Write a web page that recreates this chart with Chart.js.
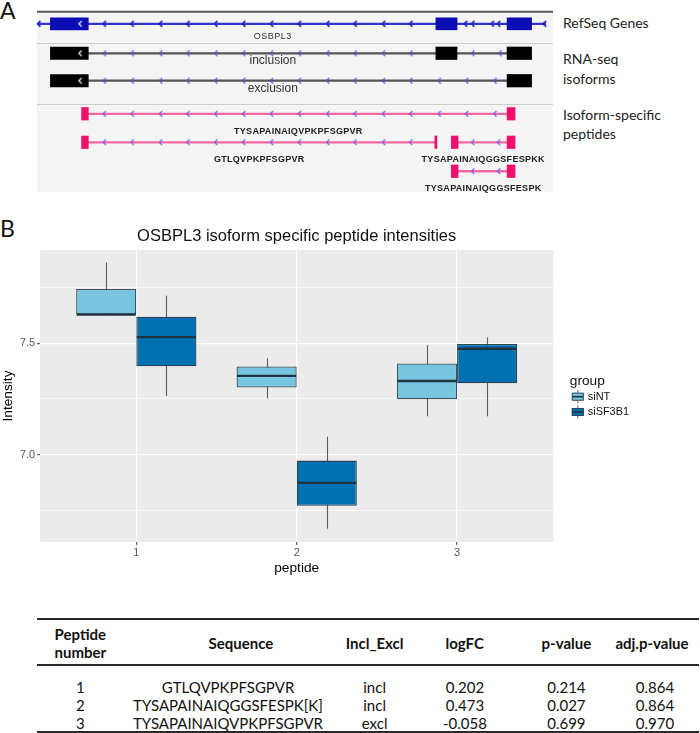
<!DOCTYPE html>
<html>
<head>
<meta charset="utf-8">
<script src="https://cdn.jsdelivr.net/npm/chart.js@4.4.1/dist/chart.umd.min.js"></script>
<style>
  body { margin: 0; background: #fff; width: 700px; height: 733px; position: relative; overflow: hidden; font-family: Lato, sans-serif; }
  .abs { position: absolute; }
  .panelLetter { font-size: 23px; line-height: 1.2; color: #111; }
  .trackLabel { font-size: 14px; line-height: 1.2; color: #222; white-space: nowrap; }
  .cell { position: absolute; transform: translate(-50%, -50%); white-space: nowrap; font-size: 15px; line-height: 1.2; color: #111; text-align: center; }
  .head { font-weight: bold; }
  .rule { position: absolute; left: 37px; width: 662px; background: #2a2a2a; }
</style>
</head>
<body>
<div class="abs panelLetter" style="left:0;top:-3.4px">A</div>
<div class="abs panelLetter" style="left:0;top:214.6px">B</div>
<div class="abs trackLabel" style="left:563px;top:14.5px">RefSeq Genes</div>
<div class="abs trackLabel" style="left:563px;top:51.2px">RNA-seq</div>
<div class="abs trackLabel" style="left:563px;top:71.2px">isoforms</div>
<div class="abs trackLabel" style="left:563px;top:106.9px">Isoform-specific</div>
<div class="abs trackLabel" style="left:563px;top:126.2px">peptides</div>

<canvas id="tracks" class="abs" width="560" height="200" style="left:0;top:0"></canvas>
<canvas id="boxes" class="abs" width="700" height="375" style="left:0;top:205px"></canvas>
<div id="table"></div>

<script>
// ---------- Panel A: genome browser view (positions in kb inside the window) ----------
const geneName = 'OSBPL3';
const geneSpan = [0, 98.6];
const geneExons = [[2.6, 9.94], [77.3, 81.4], [91.1, 95.85]];
const geneChevrons = [0.4, 13.1, 18.5, 24.0, 29.3, 34.7, 40.1, 45.5, 50.9, 56.4, 61.7, 67.2, 72.5, 83.1, 84.5, 88.3, 89.5, 98.4];
const geneLabelPos = 45.7;

const isoformNames = ['inclusion', 'exclusion'];
const isoformExons = [
    [[2.6, 9.94], [77.3, 81.4], [91.1, 95.85]],
    [[2.6, 9.94], [91.1, 95.85]]
];
const isoformChevrons = [
    [13.1, 18.5, 24.0, 29.3, 34.7, 40.1, 45.5, 50.9, 56.4, 61.7, 67.2, 72.5, 84.5, 89.8],
    [13.1, 18.5, 24.0, 29.3, 34.7, 40.1, 45.5, 50.9, 56.4, 61.7, 67.2, 72.5, 78.0, 83.3, 88.8]
];
const exonStrandMarks = [8.4];

const peptideNames = ['TYSAPAINAIQVPKPFSGPVR', 'GTLQVPKPFSGPVR', 'TYSAPAINAIQGGSFESPKK', 'TYSAPAINAIQGGSFESPK'];
const peptideBlocks = [
    [[8.64, 9.94], [91.1, 92.65]],
    [[8.64, 9.94], [77.1, 77.5]],
    [[80.3, 81.6], [91.1, 92.65]],
    [[80.3, 81.6], [91.1, 92.65]]
];
const peptideChevrons = [
    [13.1, 18.5, 24.0, 29.3, 34.7, 40.1, 45.5, 50.9, 56.4, 61.7, 67.2, 72.5, 78.0, 83.3, 88.8],
    [13.1, 18.5, 24.0, 29.3, 34.7, 40.1, 45.5, 50.9, 56.4, 61.7, 67.2, 72.5],
    [84.5, 89.5],
    [84.5, 89.5]
];

// vertical slot of each track in the browser window
const geneRow = 19.8;
const isoformRows = [50.8, 79.7];
const peptideRows = [114.5, 144.5, 144.5, 175];

// ---------- Panel B: box plot statistics ----------
const peptides = [1, 2, 3];
const groupNames = ['siNT', 'siSF3B1'];
const siNT_min = [7.630, 7.252, 7.172];
const siNT_q1 = [7.630, 7.302, 7.249];
const siNT_median = [7.630, 7.354, 7.331];
const siNT_q3 = [7.745, 7.396, 7.410];
const siNT_max = [7.864, 7.434, 7.492];
const siSF3B1_min = [7.264, 6.667, 7.172];
const siSF3B1_q1 = [7.397, 6.770, 7.321];
const siSF3B1_median = [7.528, 6.873, 7.476];
const siSF3B1_q3 = [7.620, 6.973, 7.497];
const siSF3B1_max = [7.715, 7.081, 7.527];
const yTicks = [6.75, 7.0, 7.25, 7.5, 7.75];
const yLabelled = [7.0, 7.5];

// ---------- Table ----------
const tableHeaders = ['Peptide\nnumber', 'Sequence', 'Incl_Excl', 'logFC', 'p-value', 'adj.p-value'];
const peptideNumber = ['1', '2', '3'];
const sequences = ['GTLQVPKPFSGPVR', 'TYSAPAINAIQGGSFESPK[K]', 'TYSAPAINAIQVPKPFSGPVR'];
const inclExcl = ['incl', 'incl', 'excl'];
const logFC = ['0.202', '0.473', '-0.058'];
const pValue = ['0.214', '0.027', '0.699'];
const adjPValue = ['0.864', '0.864', '0.970'];

Chart.defaults.font.family = 'Liberation Sans, Arial, sans-serif';
Chart.defaults.animation = false;

// small "<" strand marker used as point style
function chevron(color, w) {
    const c = document.createElement('canvas');
    c.width = 6; c.height = 8;
    const g = c.getContext('2d');
    g.strokeStyle = color; g.lineWidth = w;
    g.beginPath(); g.moveTo(4.3, 1.2); g.lineTo(1.6, 4); g.lineTo(4.3, 6.8); g.stroke();
    return c;
}
const chevGene = chevron('#1f1fc4', 1.7);
const chevIso = chevron('#5050e6', 1.2);
const chevPep = chevron('#6a5ce6', 1.2);
const chevWhite = chevron('#ffffff', 1.2);

function marks(xs, row, img) {
    return { type: 'scatter', data: xs.map(x => ({ x, y: row })), pointStyle: img, pointRadius: 4, order: 0 };
}
function blocks(list, row, color, thick, order) {
    return { type: 'bar', indexAxis: 'y', grouped: false, data: list.map(b => ({ y: row, x: b })),
        backgroundColor: color, borderWidth: 0, barThickness: thick, order };
}
// gaps between consecutive blocks are the introns
function introns(list) {
    const out = [];
    for (let i = 0; i < list.length - 1; i++) out.push([list[i][1], list[i + 1][0]]);
    return out;
}

const trackSets = [];
trackSets.push(blocks([geneSpan], geneRow, '#3434cf', 1.6, 2));
trackSets.push(blocks(geneExons, geneRow, '#0c0cb4', 12, 1));
trackSets.push(marks(geneChevrons, geneRow, chevGene));
trackSets.push(marks(exonStrandMarks, geneRow, chevWhite));
isoformExons.forEach((ex, i) => {
    trackSets.push(blocks(introns(ex), isoformRows[i], '#555555', 1.6, 2));
    trackSets.push(blocks(ex, isoformRows[i], '#000000', 12.5, 1));
    trackSets.push(marks(isoformChevrons[i], isoformRows[i], chevIso));
    trackSets.push(marks(exonStrandMarks, isoformRows[i], chevWhite));
});
peptideBlocks.forEach((bl, i) => {
    trackSets.push(blocks(introns(bl), peptideRows[i], '#f168a6', 1.6, 2));
    trackSets.push(blocks(bl, peptideRows[i], '#f0106c', 12.5, 1));
    trackSets.push(marks(peptideChevrons[i], peptideRows[i], chevPep));
});

const trackDecor = {
    id: 'trackDecor',
    beforeDatasetsDraw(chart) {
        const { ctx, chartArea: a, scales: { y } } = chart;
        ctx.save();
        ctx.fillStyle = '#f4f4f4';
        ctx.fillRect(a.left, y.getPixelForValue(7), a.right - a.left, y.getPixelForValue(197) - y.getPixelForValue(7));
        ctx.strokeStyle = '#cccccc'; ctx.lineWidth = 1;
        [40, 104].forEach(v => {
            const py = Math.round(y.getPixelForValue(v)) + 0.5;
            ctx.beginPath(); ctx.moveTo(a.left, py); ctx.lineTo(a.right, py); ctx.stroke();
        });
        ctx.strokeStyle = '#555555'; ctx.lineWidth = 2;
        ctx.beginPath(); ctx.moveTo(a.left, y.getPixelForValue(7)); ctx.lineTo(a.right, y.getPixelForValue(7)); ctx.stroke();
        ctx.restore();
    },
    afterDatasetsDraw(chart) {
        const { ctx, scales: { x, y } } = chart;
        ctx.save();
        ctx.textAlign = 'center'; ctx.textBaseline = 'middle';
        ctx.fillStyle = '#333';
        ctx.font = '9px "Liberation Sans", Arial, sans-serif';
        ctx.letterSpacing = '0.5px';
        ctx.fillText(geneName, x.getPixelForValue(geneLabelPos), y.getPixelForValue(geneRow + 13.5));
        ctx.letterSpacing = '0px';
        ctx.font = '12px "Liberation Sans", Arial, sans-serif';
        isoformNames.forEach((n, i) => {
            ctx.fillText(n, x.getPixelForValue(geneLabelPos), y.getPixelForValue(isoformRows[i] + 8.3));
        });
        ctx.fillStyle = '#222';
        ctx.font = 'bold 9px "Liberation Sans", Arial, sans-serif';
        ctx.letterSpacing = '0.3px';
        peptideNames.forEach((n, i) => {
            const bl = peptideBlocks[i];
            const mid = (bl[0][0] + bl[bl.length - 1][1]) / 2;
            ctx.fillText(n, x.getPixelForValue(mid), y.getPixelForValue(peptideRows[i] + 18.3));
        });
        ctx.restore();
    }
};

new Chart(document.getElementById('tracks'), {
    type: 'scatter',
    data: { datasets: trackSets },
    options: {
        responsive: false,
        events: [],
        layout: { padding: { left: 37, right: 7, top: 0, bottom: 0 } },
        plugins: { legend: { display: false }, tooltip: { enabled: false } },
        scales: {
            x: { type: 'linear', min: 0, max: 100, display: false, offset: false, grid: { offset: false } },
            y: { type: 'linear', min: 0, max: 200, reverse: true, display: false, offset: false, grid: { offset: false } }
        }
    },
    plugins: [trackDecor]
});

// ---------- Panel B ----------
const boxSets = [
    { label: groupNames[0], data: peptides.map((p, i) => ({ x: p, y: [siNT_q1[i], siNT_q3[i]] })),
      lo: siNT_min, med: siNT_median, hi: siNT_max,
      backgroundColor: '#77c5e1', borderColor: '#3d525c', borderWidth: 1.3, borderSkipped: false },
    { label: groupNames[1], data: peptides.map((p, i) => ({ x: p, y: [siSF3B1_q1[i], siSF3B1_q3[i]] })),
      lo: siSF3B1_min, med: siSF3B1_median, hi: siSF3B1_max,
      backgroundColor: '#0070b1', borderColor: '#2c4654', borderWidth: 1.3, borderSkipped: false }
];

const isMajor = v => yLabelled.some(t => Math.abs(t - v) < 1e-9);

const boxParts = {
    id: 'boxParts',
    beforeDraw(chart) {
        const { ctx, chartArea: a } = chart;
        ctx.save();
        ctx.fillStyle = '#ebebeb';
        ctx.fillRect(a.left, a.top, a.right - a.left, a.bottom - a.top);
        ctx.restore();
    },
    beforeDatasetsDraw(chart) {
        const { ctx, scales: { y } } = chart;
        ctx.save();
        ctx.strokeStyle = '#5c5c5c'; ctx.lineWidth = 1.1;
        chart.data.datasets.forEach((ds, di) => {
            chart.getDatasetMeta(di).data.forEach((bar, j) => {
                const px = Math.round(bar.x) + 0.5;
                ctx.beginPath();
                ctx.moveTo(px, y.getPixelForValue(ds.lo[j]));
                ctx.lineTo(px, y.getPixelForValue(ds.hi[j]));
                ctx.stroke();
            });
        });
        ctx.restore();
    },
    afterDatasetsDraw(chart) {
        const { ctx, scales: { y } } = chart;
        ctx.save();
        ctx.strokeStyle = '#1e3440'; ctx.lineWidth = 2.3;
        chart.data.datasets.forEach((ds, di) => {
            chart.getDatasetMeta(di).data.forEach((bar, j) => {
                const py = y.getPixelForValue(ds.med[j]);
                ctx.beginPath();
                ctx.moveTo(bar.x - bar.width / 2 + 0.5, py);
                ctx.lineTo(bar.x + bar.width / 2 - 0.5, py);
                ctx.stroke();
            });
        });
        ctx.restore();
    },
    afterDraw(chart) {
        // ggplot style legend with little box plot keys
        const { ctx, chartArea: a } = chart;
        const left = a.right + 16.5;
        ctx.save();
        ctx.fillStyle = '#111';
        ctx.textBaseline = 'middle';
        ctx.font = '13.7px "Liberation Sans", Arial, sans-serif';
        ctx.fillText('group', left, 176);
        ctx.font = '10.9px "Liberation Sans", Arial, sans-serif';
        chart.data.datasets.forEach((ds, i) => {
            const cy = 191.7 + i * 15.3;
            const kx = left + 2, kw = 12;
            ctx.strokeStyle = '#5c5c5c'; ctx.lineWidth = 1;
            ctx.beginPath(); ctx.moveTo(kx + kw / 2, cy - 6.5); ctx.lineTo(kx + kw / 2, cy + 6.5); ctx.stroke();
            ctx.fillStyle = ds.backgroundColor;
            ctx.fillRect(kx, cy - 4, kw, 8);
            ctx.strokeStyle = ds.borderColor; ctx.lineWidth = 1;
            ctx.strokeRect(kx + 0.5, cy - 3.5, kw - 1, 7);
            ctx.strokeStyle = '#1e3440'; ctx.lineWidth = 1.6;
            ctx.beginPath(); ctx.moveTo(kx + 0.5, cy); ctx.lineTo(kx + kw - 0.5, cy); ctx.stroke();
            ctx.fillStyle = '#111';
            ctx.fillText(ds.label, left + 18, cy);
        });
        ctx.restore();
    }
};

new Chart(document.getElementById('boxes'), {
    type: 'bar',
    data: { datasets: boxSets },
    options: {
        responsive: false,
        events: [],
        categoryPercentage: 0.75,
        barPercentage: 1,
        layout: { padding: { left: 0, right: 146.7, top: 0, bottom: 3.5 } },
        plugins: {
            legend: { display: false },
            tooltip: { enabled: false },
            title: {
                display: true, fullSize: false,
                text: 'OSBPL3 isoform specific peptide intensities',
                color: '#111', font: { size: 16.5, weight: 'normal' },
                padding: { top: 22, bottom: 3.2 }
            }
        },
        scales: {
            x: {
                type: 'linear', min: 0.4, max: 3.6, offset: false,
                afterBuildTicks: s => { s.ticks = peptides.map(v => ({ value: v })); },
                ticks: { color: '#555', font: { size: 10.9 }, padding: 1, autoSkip: false, maxRotation: 0, callback: v => String(v) },
                grid: { color: '#ffffff', lineWidth: 1.3, offset: false, tickLength: 3, tickWidth: 1, tickColor: '#444' },
                border: { display: false },
                title: { display: true, text: 'peptide', color: '#000', font: { size: 13.7 }, padding: { top: 0, bottom: 0 } }
            },
            y: {
                type: 'linear', min: 6.607, max: 7.92, beginAtZero: false,
                afterBuildTicks: s => { s.ticks = yTicks.map(v => ({ value: v })); },
                ticks: { color: '#555', font: { size: 10.9 }, padding: 2, autoSkip: false,
                    callback: v => isMajor(v) ? v.toFixed(1) : '' },
                grid: {
                    color: '#ffffff',
                    lineWidth: c => isMajor(c.tick.value) ? 1.3 : 0.6,
                    tickLength: 3, tickWidth: 1,
                    tickColor: c => isMajor(c.tick.value) ? '#444' : 'rgba(0,0,0,0)'
                },
                border: { display: false },
                title: { display: true, text: 'Intensity', color: '#000', font: { size: 13.7 }, padding: { top: 0, bottom: 1.5 } }
            }
        }
    },
    plugins: [boxParts]
});

// ---------- Table ----------
const colCenters = [80.3, 228, 374.6, 465, 566.4, 655];
const headCenters = [80.3, 241, 374.6, 464.7, 566.4, 652];
const rowY = [687.3, 705, 722.7];
const tbl = document.getElementById('table');
function addCell(text, x, y, cls) {
    const d = document.createElement('div');
    d.className = 'cell ' + (cls || '');
    d.style.left = x + 'px'; d.style.top = y + 'px';
    d.innerHTML = text.replace('\n', '<br>');
    tbl.appendChild(d);
}
tableHeaders.forEach((h, i) => addCell(h, headCenters[i], 643.3, 'head'));
const columns = [peptideNumber, sequences, inclExcl, logFC, pValue, adjPValue];
columns.forEach((col, c) => col.forEach((v, r) => addCell(v, colCenters[c], rowY[r])));
[[618.3, 2.2], [664.3, 1.4], [730.6, 2.2]].forEach(([top, h]) => {
    const d = document.createElement('div');
    d.className = 'rule';
    d.style.top = top + 'px'; d.style.height = h + 'px';
    tbl.appendChild(d);
});
</script>
</body>
</html>
